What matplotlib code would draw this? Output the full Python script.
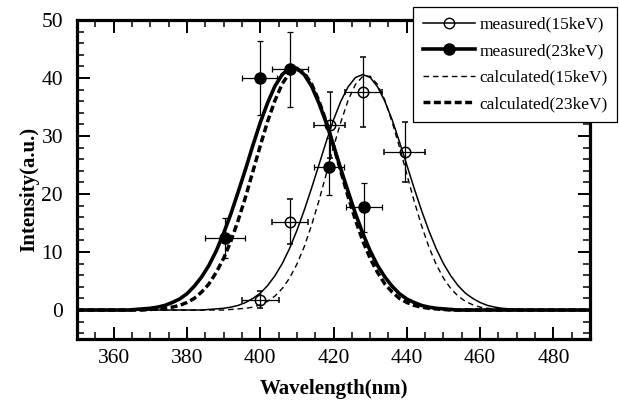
import numpy as np
import matplotlib
matplotlib.use("Agg")
import matplotlib.pyplot as plt
from matplotlib.ticker import MultipleLocator
from matplotlib.lines import Line2D

plt.rcParams['font.family'] = ['Liberation Serif', 'DejaVu Serif']

# measured points (wavelength nm, intensity a.u.)
meas15_x = [400.0, 408.1, 419.0, 428.1, 439.4]
meas15_y = [1.8, 15.2, 31.9, 37.6, 27.3]
meas15_xerr = [5.0, 4.9, 4.2, 5.0, 5.6]
meas15_yerr = [1.4, 3.9, 5.7, 6.1, 5.2]

meas23_x = [390.4, 399.9, 408.1, 418.8, 428.3]
meas23_y = [12.4, 40.0, 41.5, 24.7, 17.7]
meas23_xerr = [5.5, 4.8, 5.0, 4.0, 5.0]
meas23_yerr = [3.4, 6.4, 6.5, 4.9, 4.2]

# curves
wl_fit = [350, 362, 364, 366, 368, 370, 372, 374, 376, 378,
          380, 382, 384, 386, 388, 390, 392, 394, 396, 398,
          400, 402, 404, 406, 408, 410, 412, 414, 416, 418,
          420, 422, 424, 426, 428, 430, 432, 434, 436, 438,
          440, 442, 444, 446, 448, 450, 452, 454, 456, 458,
          460, 462, 464, 466, 468, 470, 472, 474, 476, 490]

fit15 = [0, 0, 0, 0, 0, 0, 0, 0, 0, 0,
         0, 0, 0, 0.1, 0.2, 0.3, 0.5, 0.8, 1.3, 2.0,
         2.9, 4.2, 5.9, 8.0, 10.6, 13.7, 17.2, 21.0, 25.0, 29.0,
         32.8, 36.0, 38.5, 40.1, 40.6, 40.1, 38.5, 36.0, 32.8, 29.0,
         25.0, 21.0, 17.2, 13.7, 10.6, 8.0, 5.9, 4.2, 2.9, 2.0,
         1.3, 0.8, 0.5, 0.3, 0.2, 0.1, 0, 0, 0, 0]

fit23 = [0, 0, 0, 0.1, 0.2, 0.3, 0.5, 0.8, 1.3, 1.9,
         2.8, 4.1, 5.7, 7.7, 10.2, 13.2, 16.6, 20.4, 24.3, 28.4,
         32.3, 35.7, 38.6, 40.6, 41.7, 41.7, 40.6, 38.6, 35.7, 32.3,
         28.4, 24.3, 20.4, 16.6, 13.2, 10.2, 7.7, 5.7, 4.1, 2.8,
         1.9, 1.3, 0.8, 0.5, 0.3, 0.2, 0.1, 0, 0, 0,
         0, 0, 0, 0, 0, 0, 0, 0, 0, 0]

calc15 = [0, 0, 0, 0, 0, 0, 0, 0, 0, 0,
          0, 0, 0, 0, 0, 0, 0.1, 0.2, 0.3, 0.5,
          0.9, 1.5, 2.4, 3.7, 5.5, 7.9, 10.9, 14.6, 18.8, 23.4,
          28.1, 32.4, 36.2, 38.9, 40.3, 40.3, 38.9, 36.2, 32.4, 28.1,
          23.4, 18.8, 14.6, 10.9, 7.9, 5.5, 3.7, 2.4, 1.5, 0.9,
          0.5, 0.3, 0.2, 0.1, 0, 0, 0, 0, 0, 0]

calc23 = [0, 0, 0, 0, 0, 0.1, 0.2, 0.3, 0.5, 0.8,
          1.3, 2.0, 3.1, 4.5, 6.5, 8.9, 11.9, 15.5, 19.5, 23.9,
          28.3, 32.5, 36.1, 39.0, 40.9, 41.5, 40.9, 39.0, 36.1, 32.5,
          28.3, 23.9, 19.5, 15.5, 11.9, 8.9, 6.5, 4.5, 3.1, 2.0,
          1.3, 0.8, 0.5, 0.3, 0.2, 0.1, 0, 0, 0, 0,
          0, 0, 0, 0, 0, 0, 0, 0, 0, 0]

labels = ['measured(15keV)', 'measured(23keV)', 'calculated(15keV)', 'calculated(23keV)']

fig = plt.figure(figsize=(6.19, 4.07), dpi=100)
ax = fig.add_axes([0.1244, 0.167, 0.8288, 0.7838])

ax.plot(wl_fit, calc15, color='black', lw=1.0, dashes=(4.0, 2.8))
ax.plot(wl_fit, calc23, color='black', lw=2.5, dashes=(2.0, 1.0))
ax.plot(wl_fit, fit15, color='black', lw=1.1)
ax.plot(wl_fit, fit23, color='black', lw=2.6)

ax.errorbar(meas15_x, meas15_y, xerr=meas15_xerr, yerr=meas15_yerr, fmt='o',
            mfc='none', mec='black', mew=1.1, ms=7.5, ecolor='black',
            elinewidth=0.9, capsize=2.5, capthick=0.9, zorder=5)
ax.errorbar(meas23_x, meas23_y, xerr=meas23_xerr, yerr=meas23_yerr, fmt='o',
            mfc='black', mec='black', ms=8, ecolor='black',
            elinewidth=0.9, capsize=2.5, capthick=0.9, zorder=5)

ax.set_xlim(350, 490)
ax.set_ylim(-5, 50)
ax.xaxis.set_major_locator(MultipleLocator(20))
ax.xaxis.set_minor_locator(MultipleLocator(5))
ax.yaxis.set_major_locator(MultipleLocator(10))
ax.yaxis.set_minor_locator(MultipleLocator(2))
ax.tick_params(which='both', direction='in', top=True, right=True)
ax.tick_params(which='major', length=9, width=1.4, labelsize=15.5)
ax.tick_params(which='minor', length=5, width=1.1)
ax.tick_params(axis='y', pad=10)
ax.tick_params(axis='x', pad=7)
for s in ax.spines.values():
    s.set_linewidth(2.3)

ax.set_xlabel('Wavelength(nm)', fontsize=15, fontweight='bold')
ax.set_ylabel('Intensity(a.u.)', fontsize=15, fontweight='bold')
ax.xaxis.set_label_coords(0.5, -0.125)
ax.yaxis.set_label_coords(-0.073, 0.47)

handles = [
    Line2D([], [], color='black', lw=1.1, marker='o', mfc='none', mec='black', ms=7.5),
    Line2D([], [], color='black', lw=2.6, marker='o', mfc='black', ms=8),
    Line2D([], [], color='black', lw=1.0, dashes=(4.0, 2.8)),
    Line2D([], [], color='black', lw=2.5, dashes=(2.0, 1.0)),
]
leg = ax.legend(handles, labels, loc='upper right', bbox_to_anchor=(617 / 619, 1 - 7 / 407),
                bbox_transform=fig.transFigure, borderaxespad=0, fontsize=12.5,
                frameon=True, fancybox=False, framealpha=1, edgecolor='black',
                handlelength=3.0, handletextpad=0.25, labelspacing=0.6, borderpad=0.55,
                numpoints=1)
leg.get_frame().set_linewidth(0.9)

fig.savefig('out.png', dpi=100)
